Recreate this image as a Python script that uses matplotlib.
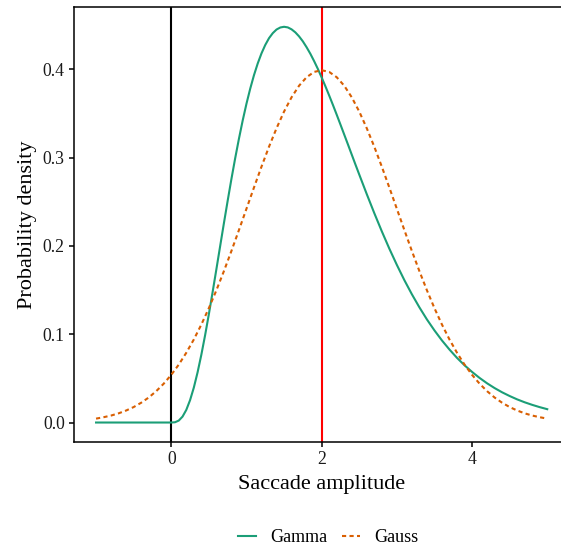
import matplotlib
matplotlib.use("Agg")
import matplotlib.pyplot as plt
import numpy as np

plt.rcParams['font.family'] = ['Liberation Serif', 'DejaVu Serif']

gauss_x = np.round(np.arange(-1.0, 5.0001, 0.1), 2)
gauss_vals = [0.0044, 0.0060, 0.0079, 0.0104, 0.0136, 0.0175, 0.0224, 0.0283, 0.0355, 0.0440,
              0.0540, 0.0656, 0.0790, 0.0940, 0.1109, 0.1295, 0.1497, 0.1714, 0.1942, 0.2179,
              0.2420, 0.2661, 0.2897, 0.3123, 0.3332, 0.3521, 0.3683, 0.3814, 0.3910, 0.3970,
              0.3989,
              0.3970, 0.3910, 0.3814, 0.3683, 0.3521, 0.3332, 0.3123, 0.2897, 0.2661, 0.2420,
              0.2179, 0.1942, 0.1714, 0.1497, 0.1295, 0.1109, 0.0940, 0.0790, 0.0656, 0.0540,
              0.0440, 0.0355, 0.0283, 0.0224, 0.0175, 0.0136, 0.0104, 0.0079, 0.0060, 0.0044]

gamma_x = np.concatenate([np.round(np.arange(-1.0, 0.0001, 0.1), 2),
                          np.round(np.arange(0.05, 2.5001, 0.05), 2),
                          np.round(np.arange(2.6, 5.0001, 0.1), 2)])
gamma_vals = [0.0, 0.0, 0.0, 0.0, 0.0, 0.0, 0.0, 0.0, 0.0, 0.0, 0.0,
              0.0003, 0.0022, 0.0067, 0.0143, 0.0253, 0.0395, 0.0568, 0.0767, 0.0988, 0.1226,
              0.1477, 0.1735, 0.1996, 0.2256, 0.2510, 0.2757, 0.2992, 0.3213, 0.3420, 0.3609,
              0.3780, 0.3933, 0.4066, 0.4180, 0.4275, 0.4352, 0.4409, 0.4450, 0.4473, 0.4481,
              0.4474, 0.4452, 0.4418, 0.4372, 0.4316, 0.4249, 0.4175, 0.4092, 0.4003, 0.3907,
              0.3807, 0.3703, 0.3596, 0.3486, 0.3374, 0.3261, 0.3148, 0.3034, 0.2920, 0.2808,
              0.2586, 0.2371, 0.2165, 0.1969, 0.1785,
              0.1612, 0.1452, 0.1304, 0.1167, 0.1043, 0.0929, 0.0826, 0.0732, 0.0648, 0.0573,
              0.0505, 0.0444, 0.0390, 0.0342, 0.0300, 0.0262, 0.0229, 0.0200, 0.0174, 0.0151]

vlines_x = [0, 2]
vlines_colors = ['black', '#FF0000']
series_names = ['Gamma', 'Gauss']
series_colors = ['#1B9E77', '#D95F02']
x_ticks = [0, 2, 4]
y_ticks = [0.0, 0.1, 0.2, 0.3, 0.4]

W, H = 561, 550
fig = plt.figure(figsize=(W / 100, H / 100), dpi=100)
left_px, right_px, top_px, bottom_px = 73.5, 569.8, 7.0, 442.3
ax = fig.add_axes([left_px / W, 1 - bottom_px / H, (right_px - left_px) / W, (bottom_px - top_px) / H])

lw = 1.5
ax.axvline(vlines_x[0], color=vlines_colors[0], lw=lw, zorder=1)
ax.axvline(vlines_x[1], color=vlines_colors[1], lw=lw, zorder=1)
ax.plot(gamma_x, gamma_vals, color=series_colors[0], lw=lw, label=series_names[0], zorder=2,
        solid_joinstyle='round')
ax.plot(gauss_x, gauss_vals, color=series_colors[1], lw=lw, ls=(0, (2.0, 1.6)),
        label=series_names[1], zorder=2)

ax.set_xlim(-1.3, 5.3)
ax.set_ylim(-0.0224, 0.4705)
ax.set_xticks(x_ticks)
ax.set_xticklabels([str(t) for t in x_ticks])
ax.set_yticks(y_ticks)
ax.set_yticklabels([f"{t:.1f}" for t in y_ticks])

for s in ['left', 'bottom', 'top', 'right']:
    ax.spines[s].set_linewidth(1.1)
    ax.spines[s].set_color('black')

ax.tick_params(axis='both', length=3.3, width=1.1, color='black', labelsize=12.7,
               labelcolor='#1a1a1a', pad=3)

ax.set_xlabel('Saccade amplitude', fontsize=16, labelpad=5)
ax.set_ylabel('Probability density', fontsize=16, labelpad=4)

fig.legend(loc='center', bbox_to_anchor=(328 / W, 1 - 538 / H), ncol=2, frameon=False,
           fontsize=13, handlelength=1.0, handletextpad=0.8, columnspacing=0.8)

fig.savefig('out.png', dpi=100)
